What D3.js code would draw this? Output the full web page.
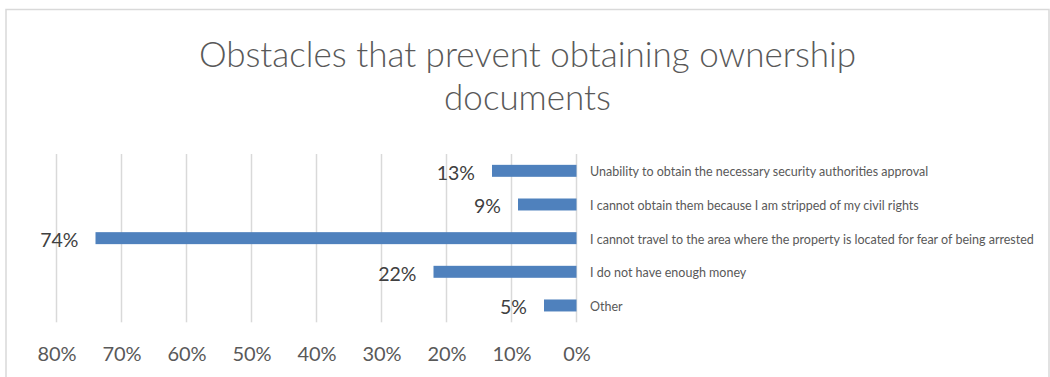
<!DOCTYPE html>
<html>
<head>
<meta charset="utf-8">
<script src="https://cdn.jsdelivr.net/npm/d3@7"></script>
<style>
  html, body { margin: 0; padding: 0; background: #fff; }
  svg { display: block; font-family: Lato, "Open Sans", sans-serif; }
</style>
</head>
<body>
<svg id="chart" width="1050" height="377"></svg>
<script>
// Survey answers and their shares (top to bottom)
const categories = [
  "Unability to obtain the necessary security authorities approval",
  "I cannot obtain them because I am stripped of my civil rights",
  "I cannot travel to the area where the property is located for fear of being arrested",
  "I do not have enough money",
  "Other"
];
const values = [0.13, 0.09, 0.74, 0.22, 0.05];
const tickValues = [0.8, 0.7, 0.6, 0.5, 0.4, 0.3, 0.2, 0.1, 0];
const titleLines = ["Obstacles that prevent obtaining ownership", "documents"];

const svg = d3.select("#chart");

// chart frame
svg.append("path")
  .attr("d", "M6,378 V9.5 H1049 V378")
  .attr("fill", "none")
  .attr("stroke", "#d9d9d9")
  .attr("stroke-width", 1.5);

// title
svg.append("text")
  .attr("x", 527.5)
  .attr("text-anchor", "middle")
  .attr("fill", "#595959")
  .attr("font-size", 35)
  .attr("font-weight", 300)
  .selectAll("tspan")
  .data(titleLines)
  .join("tspan")
  .attr("x", 527.5)
  .attr("y", (d, i) => 67 + i * 43)
  .text(d => d);

// reversed value axis: 0% on the right, growing leftwards
const plotTop = 154, plotBottom = 322.3;
const x = d3.scaleLinear().domain([0, 0.8]).range([576.5, 56.5]);
const y = d3.scaleBand()
  .domain(categories)
  .range([plotTop, plotBottom])
  .paddingInner(0.644)
  .paddingOuter(0.322);

// vertical gridlines (including the zero line)
svg.append("g")
  .selectAll("line")
  .data(tickValues)
  .join("line")
  .attr("x1", d => x(d))
  .attr("x2", d => x(d))
  .attr("y1", plotTop)
  .attr("y2", plotBottom)
  .attr("stroke", "#d9d9d9")
  .attr("stroke-width", 1.5);

// bars
svg.append("g")
  .selectAll("rect")
  .data(values)
  .join("rect")
  .attr("x", d => x(d))
  .attr("width", d => x(0) - x(d))
  .attr("y", (d, i) => y(categories[i]))
  .attr("height", y.bandwidth())
  .attr("fill", "#4f81bd");

// value labels left of each bar
svg.append("g")
  .selectAll("text")
  .data(values)
  .join("text")
  .attr("x", d => x(d) - 17)
  .attr("y", (d, i) => y(categories[i]) + y.bandwidth() / 2 + 9)
  .attr("text-anchor", "end")
  .attr("font-size", 19.5)
  .attr("fill", "#404040")
  .text(d => Math.round(d * 100) + "%");

// category labels right of the zero line
svg.append("g")
  .selectAll("text")
  .data(categories)
  .join("text")
  .attr("x", x(0) + 13.5)
  .attr("y", d => y(d) + y.bandwidth() / 2 + 5.5)
  .attr("font-size", 12.5)
  .attr("fill", "#595959")
  .text(d => d);

// bottom axis labels
const axis = d3.axisBottom(x)
  .tickValues(tickValues)
  .tickFormat(d3.format(".0%"))
  .tickSize(0);

const axisG = svg.append("g")
  .attr("transform", `translate(0,${plotBottom})`)
  .call(axis);
axisG.select(".domain").remove();
axisG.selectAll("text")
  .attr("y", 39)
  .attr("dy", null)
  .attr("font-family", "Lato, 'Open Sans', sans-serif")
  .attr("font-size", 20)
  .attr("fill", "#595959");
</script>
</body>
</html>
